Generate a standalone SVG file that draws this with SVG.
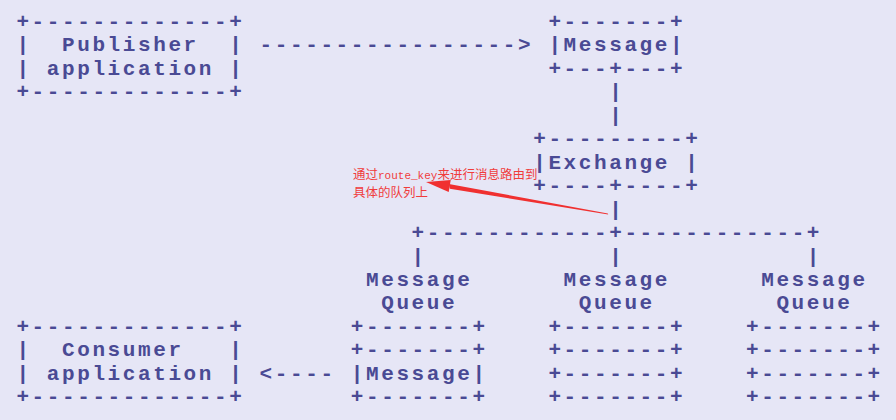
<svg xmlns="http://www.w3.org/2000/svg" width="896" height="420" viewBox="0 0 896 420">
<style>
.t{font-family:"Liberation Mono","DejaVu Sans Mono",monospace;font-size:21px;font-weight:bold;letter-spacing:2.6px;fill:#4a4a94;}
.note{font-family:"Noto Sans CJK SC","Noto Sans",sans-serif;font-size:12.5px;fill:#f03c3c;}
.nm{font-family:"Liberation Mono",monospace;font-size:11px;}
</style>
<rect width="896" height="420" fill="#e6e6f6"/>
<g id="connectors">
  <text class="t" x="259.6" y="51.45">-----------------&gt;</text>
  <text class="t" x="609.2" y="98.35">|</text>
  <text class="t" x="609.2" y="121.8">|</text>
  <text class="t" x="609.2" y="215.6">|</text>
  <text class="t" x="411.6" y="239.05">+------------+------------+</text>
  <text class="t" x="411.6" y="262.5">|</text>
  <text class="t" x="609.2" y="262.5">|</text>
  <text class="t" x="806.8" y="262.5">|</text>
  <text class="t" x="259.6" y="379.75">&lt;----</text>
</g>
<g id="publisher">
  <text class="t" x="16.4" y="28">+-------------+</text>
  <text class="t" x="16.4" y="51.45" xml:space="preserve">|  Publisher  |</text>
  <text class="t" x="16.4" y="74.9" xml:space="preserve">| application |</text>
  <text class="t" x="16.4" y="98.35">+-------------+</text>
</g>
<g id="message-top">
  <text class="t" x="548.4" y="28">+-------+</text>
  <text class="t" x="548.4" y="51.45">|Message|</text>
  <text class="t" x="548.4" y="74.9">+---+---+</text>
</g>
<g id="exchange">
  <text class="t" x="533.2" y="145.25">+---------+</text>
  <text class="t" x="533.2" y="168.7" xml:space="preserve">|Exchange |</text>
  <text class="t" x="533.2" y="192.15">+----+----+</text>
</g>
<g id="queue1">
  <text class="t" x="366.0" y="285.95">Message</text>
  <text class="t" x="381.2" y="309.4">Queue</text>
  <text class="t" x="350.8" y="332.85">+-------+</text>
  <text class="t" x="350.8" y="356.3">+-------+</text>
</g>
<g id="message-bottom">
  <text class="t" x="350.8" y="379.75">|Message|</text>
  <text class="t" x="350.8" y="403.2">+-------+</text>
</g>
<g id="queue2">
  <text class="t" x="563.6" y="285.95">Message</text>
  <text class="t" x="578.8" y="309.4">Queue</text>
  <text class="t" x="548.4" y="332.85">+-------+</text>
  <text class="t" x="548.4" y="356.3">+-------+</text>
  <text class="t" x="548.4" y="379.75">+-------+</text>
  <text class="t" x="548.4" y="403.2">+-------+</text>
</g>
<g id="queue3">
  <text class="t" x="761.2" y="285.95">Message</text>
  <text class="t" x="776.4" y="309.4">Queue</text>
  <text class="t" x="746.0" y="332.85">+-------+</text>
  <text class="t" x="746.0" y="356.3">+-------+</text>
  <text class="t" x="746.0" y="379.75">+-------+</text>
  <text class="t" x="746.0" y="403.2">+-------+</text>
</g>
<g id="consumer">
  <text class="t" x="16.4" y="332.85">+-------------+</text>
  <text class="t" x="16.4" y="356.3" xml:space="preserve">|  Consumer   |</text>
  <text class="t" x="16.4" y="379.75" xml:space="preserve">| application |</text>
  <text class="t" x="16.4" y="403.2">+-------------+</text>
</g>
<g id="annotation">
  <text class="note" x="353" y="178.5">通过<tspan class="nm">route_key</tspan>来进行消息路由到</text>
  <text class="note" x="353" y="197">具体的队列上</text>
  <polygon points="608.2,214.5 607.8,213.5 448.9,183.9 449.8,188.8" fill="#f03030"/>
  <polygon points="426,182 450.7,180.1 448.7,191.9" fill="#f03030"/>
</g>
</svg>
